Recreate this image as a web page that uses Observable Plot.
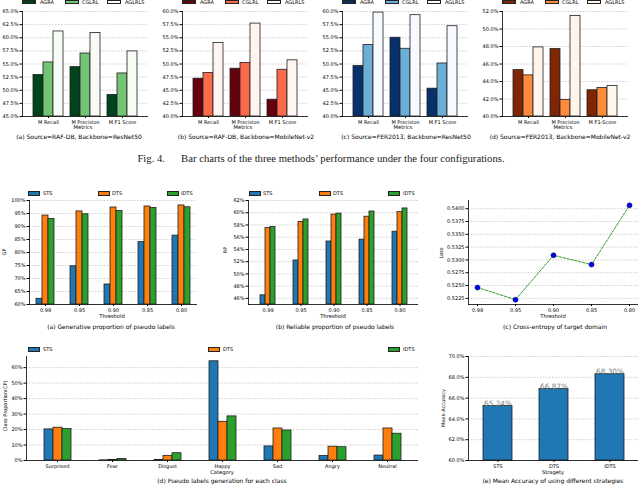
<!DOCTYPE html>
<html><head><meta charset="utf-8">
<script src="https://cdn.jsdelivr.net/npm/d3@7"></script>
<script src="https://cdn.jsdelivr.net/npm/@observablehq/plot@0.6"></script>
<style>
body{margin:0;background:#fff;}
#fig{position:relative;width:640px;height:485px;overflow:hidden;font-family:"DejaVu Sans",sans-serif;color:#000;background:#fff;}
#fig svg{position:absolute;}
</style></head><body><div id="fig"></div>
<script>
// ---------- data ----------
const topMetrics = ["M Recall", "M Precision", "M F1 Score"];
const topMetricsD = ["M Recall", "M Precision", "M F1-Score"];
const topMethods = ["AGRA", "CGLRL", "AGLRLS"];
// rows = methods (AGRA, CGLRL, AGLRLS), cols = metrics
const valuesA = [[52.9, 54.4, 49.1], [55.3, 57.0, 53.2], [61.2, 60.9, 57.4]];
const valuesB = [[47.2, 49.1, 43.2], [48.3, 50.2, 48.9], [54.0, 57.7, 50.7]];
const valuesC = [[49.6, 55.0, 45.3], [53.6, 52.9, 50.1], [59.8, 59.3, 57.2]];
const valuesD = [[45.3, 47.7, 43.0], [44.7, 41.9, 43.25], [47.9, 51.5, 43.5]];
const greens = ["#00441b", "#74c476", "#f7fcf5"];
const reds = ["#67000d", "#fb6a4a", "#fff5f0"];
const blues = ["#08306b", "#6baed6", "#f7fbff"];
const oranges = ["#7f2704", "#fd8d3c", "#fff5eb"];
const ticksA = [45, 47.5, 50, 52.5, 55, 57.5, 60, 62.5, 65];
const ticksBC = [40, 42.5, 45, 47.5, 50, 52.5, 55, 57.5, 60];
const ticksD = [40, 42, 44, 46, 48, 50, 52];

const thresholds = ["0.99", "0.95", "0.90", "0.85", "0.80"];
const strategies = ["STS", "DTS", "IDTS"];
const tab = ["#1f77b4", "#ff7f0e", "#2ca02c"];
const gpSTS = [62.2, 74.7, 67.7, 84.0, 86.5];
const gpDTS = [94.2, 95.8, 97.3, 97.7, 98.1];
const gpIDTS = [92.9, 94.7, 96.0, 97.1, 97.4];
const gpTicks = [60, 65, 70, 75, 80, 85, 90, 95, 100];
const rpSTS = [46.5, 52.2, 55.3, 55.6, 56.9];
const rpDTS = [57.5, 58.5, 59.7, 59.35, 60.1];
const rpIDTS = [57.66, 58.9, 59.85, 60.2, 60.7];
const rpTicks = [46, 48, 50, 52, 54, 56, 58, 60, 62];
const lossValues = [0.52461, 0.52224, 0.5309, 0.52909, 0.54065];
const lossTicks = [0.5225, 0.525, 0.5275, 0.53, 0.5325, 0.535, 0.5375, 0.54];

const categories = ["Surprised", "Fear", "Disgust", "Happy", "Sad", "Angry", "Neutral"];
const cpSTS = [20.1, 0.1, 0.4, 64.1, 9.1, 3.0, 3.2];
const cpDTS = [21.2, 0.4, 3.0, 25.0, 20.7, 8.9, 20.7];
const cpIDTS = [20.3, 1.0, 4.7, 28.5, 19.4, 8.6, 17.3];
const cpTicks = [0, 10, 20, 30, 40, 50, 60];
const meanAcc = [65.24, 66.87, 68.30];
const accTicks = [60, 62, 64, 66, 68, 70];

// ---------- helpers ----------
const fig = document.getElementById("fig");
function put(node, left, top) { node.style.left = left + "px"; node.style.top = top + "px"; fig.append(node); }
function label(str, x, y, fs, align = "center", rotate = false, family = null, color = "#000") {
  const d = document.createElement("div");
  d.textContent = str;
  const tx = align === "center" ? "-50%" : align === "left" ? "0" : "-100%";
  d.style.cssText = `position:absolute;left:${x}px;top:${y}px;font-size:${fs}px;line-height:1;white-space:nowrap;color:${color};transform:translate(${tx},-50%)${rotate ? " rotate(-90deg)" : ""};` + (family ? `font-family:${family};` : "");
  fig.append(d);
}
function legend(items, colors, swX, txX, yc, swW, swH, fs) {
  items.forEach((name, i) => {
    const sw = document.createElement("div");
    sw.style.cssText = `position:absolute;left:${swX[i]}px;top:${yc - swH / 2}px;width:${swW}px;height:${swH}px;background:${colors[i]};border:0.8px solid #222;box-sizing:border-box;`;
    fig.append(sw);
    label(name, txX[i], yc, fs, "left");
  });
}
const gridStyle = {stroke: "#bdbdbd", strokeDasharray: "1.6,1.4", strokeWidth: 0.7};
const baseStyle = fs => ({background: "transparent", fontFamily: "DejaVu Sans", fontSize: fs + "px", overflow: "visible", color: "#000"});

function toRows(cats, series, matrix) {
  const rows = [];
  series.forEach((s, i) => cats.forEach((c, j) => rows.push({cat: c, series: s, value: matrix[i][j]})));
  return rows;
}

// background layer (y axis, grid, spines) + foreground layer (faceted bars, category axis)
function groupedBars(o, left, top) {
  const dims = {width: o.width, height: o.height, marginLeft: o.mL, marginRight: o.mR, marginTop: o.mT, marginBottom: o.mB};
  const back = Plot.plot({
    ...dims,
    style: baseStyle(o.fs),
    y: {domain: o.yDomain, ticks: o.yTicks, tickFormat: o.yFormat, label: null, tickSize: 2.5, tickPadding: 1.5},
    marks: [
      Plot.ruleY(o.yTicks, gridStyle),
      Plot.ruleY([o.yDomain[0]], {stroke: "#000", strokeWidth: 0.8}),
      Plot.frame({anchor: "left", stroke: "#000", strokeWidth: 0.8})
    ]
  });
  const data = toRows(o.cats, o.series, o.values);
  const front = Plot.plot({
    ...dims,
    style: baseStyle(o.fs),
    fx: {domain: o.cats, paddingInner: o.pi, paddingOuter: o.po, label: null, tickSize: 2, tickPadding: 1.5},
    x: {domain: o.series, axis: null, padding: 0},
    y: {domain: o.yDomain, axis: null},
    color: {domain: o.series, range: o.colors},
    marks: [
      Plot.barY(data, {fx: "cat", x: "series", y1: o.yDomain[0], y2: "value", fill: "series", stroke: "#1e1e1e", strokeWidth: 0.8, insetLeft: 0, insetRight: 0})
    ]
  });
  put(back, left, top);
  put(front, left, top);
}

// ---------- top row ----------
const pct1 = d => d.toFixed(1) + "%";
const topPanels = [
  {left: 0, values: valuesA, colors: greens, yDomain: [45, 65], yTicks: ticksA, cats: topMetrics, cap: "(a) Source=RAF-DB, Backbone=ResNet50", capX: 79},
  {left: 160, values: valuesB, colors: reds, yDomain: [40, 60], yTicks: ticksBC, cats: topMetrics, cap: "(b) Source=RAF-DB, Backbone=MobileNet-v2", capX: 86},
  {left: 320, values: valuesC, colors: blues, yDomain: [40, 60], yTicks: ticksBC, cats: topMetrics, cap: "(c) Source=FER2013, Backbone=ResNet50", capX: 86},
  {left: 480, values: valuesD, colors: oranges, yDomain: [40, 52], yTicks: ticksD, cats: topMetricsD, cap: "(d) Source=FER2013, Backbone=MobileNet-v2", capX: 80}
];
topPanels.forEach(p => {
  groupedBars({cats: p.cats, series: topMethods, values: p.values, colors: p.colors,
    yDomain: p.yDomain, yTicks: p.yTicks, yFormat: pct1,
    width: 160, height: 130, mL: 22, mR: 12, mT: 11, mB: 14, pi: 0.2, po: 0.28, fs: 5}, p.left, 0);
  legend(topMethods, p.colors, [p.left + 22, p.left + 65, p.left + 107], [p.left + 40, p.left + 82, p.left + 125], 2, 14, 4.5, 5);
  label("Metrics", p.left + 83, 128, 5.2);
  label(p.cap, p.left + p.capX, 136.5, 6);
});
label("Fig. 4.\u2003\u2002Bar charts of the three methods\u2019 performance under the four configurations.", 321, 158, 10.7, "center", false, "'Liberation Serif', serif", "#222");

// ---------- middle row ----------
const pct0 = d => d + "%";
groupedBars({cats: thresholds, series: strategies, values: [gpSTS, gpDTS, gpIDTS], colors: tab,
  yDomain: [60, 100], yTicks: gpTicks, yFormat: pct0,
  width: 210, height: 135, mL: 29, mR: 13, mT: 10, mB: 21, pi: 0.482, po: 0.158, fs: 5}, 0, 190);
legend(strategies, tab, [28, 98, 167], [43, 112, 181], 193, 12, 5, 5);
label("GP", 3.5, 252, 5, "center", true);
label("Threshold", 112, 317, 5.2);
label("(a) Generative proportion of pseudo labels", 111, 326.5, 6);

groupedBars({cats: thresholds, series: strategies, values: [rpSTS, rpDTS, rpIDTS], colors: tab,
  yDomain: [45, 62], yTicks: rpTicks, yFormat: pct0,
  width: 220, height: 135, mL: 38, mR: 12, mT: 10, mB: 21, pi: 0.485, po: 0.243, fs: 5}, 210, 190);
legend(strategies, tab, [249, 319, 388], [263, 333, 403], 193, 12, 5, 5);
label("RP", 225, 250, 5, "center", true);
label("Threshold", 333, 317, 5.2);
label("(b) Reliable proportion of pseudo labels", 335, 326.5, 6);

const lossData = thresholds.map((t, i) => ({t, loss: lossValues[i]}));
const svgLoss = Plot.plot({
  width: 210, height: 135, marginLeft: 38, marginRight: 2, marginTop: 10, marginBottom: 21,
  style: baseStyle(5),
  x: {type: "point", domain: thresholds, padding: 0.21, label: null, tickSize: 2, tickPadding: 1.5},
  y: {domain: [0.5213, 0.5416], ticks: lossTicks, tickFormat: d3.format(".4f"), label: null, tickSize: 2.5, tickPadding: 1.5},
  marks: [
    Plot.ruleY(lossTicks, gridStyle),
    Plot.line(lossData, {x: "t", y: "loss", stroke: "#2ca02c", strokeWidth: 1, strokeDasharray: "2.6,1.4"}),
    Plot.dot(lossData, {x: "t", y: "loss", r: 2.5, fill: "#0000ee", stroke: "#10106a", strokeWidth: 0.6}),
    Plot.ruleY([0.5213], {stroke: "#000", strokeWidth: 0.8}),
    Plot.frame({anchor: "left", stroke: "#000", strokeWidth: 0.8})
  ]
});
put(svgLoss, 430, 190);
label("Loss", 441, 253, 5, "center", true);
label("Threshold", 553, 317, 5.2);
label("(c) Cross-entropy of target domain", 555, 326.5, 6);

// ---------- bottom row ----------
groupedBars({cats: categories, series: strategies, values: [cpSTS, cpDTS, cpIDTS], colors: tab,
  yDomain: [0, 67.2], yTicks: cpTicks, yFormat: pct0,
  width: 430, height: 125, mL: 26, mR: 12, mT: 11, mB: 10, pi: 0.4875, po: 0.244, fs: 5}, 0, 345);
legend(strategies, tab, [28, 208, 388], [43, 223, 403], 349, 12, 5, 5);
label("Class Proportion(CP)", 5, 406, 5, "center", true);
label("Category", 222, 473, 5.2);
label("(d) Pseudo labels generation for each class", 222, 481, 6);

const accData = strategies.map((s, i) => ({s, v: meanAcc[i]}));
const svgAcc = Plot.plot({
  width: 210, height: 125, marginLeft: 38, marginRight: 2, marginTop: 11, marginBottom: 10,
  style: baseStyle(5),
  x: {domain: strategies, paddingInner: 0.487, paddingOuter: 0.248, label: null, tickSize: 2, tickPadding: 1.5},
  y: {domain: [60, 70], ticks: accTicks, tickFormat: pct1, label: null, tickSize: 2.5, tickPadding: 1.5},
  marks: [
    Plot.ruleY(accTicks, gridStyle),
    Plot.barY(accData, {x: "s", y1: 60, y2: "v", fill: "#1f77b4", stroke: "#1e1e1e", strokeWidth: 0.8}),
    Plot.text(accData, {x: "s", y: "v", text: d => d.v.toFixed(2) + "%", lineAnchor: "bottom", dy: -0.5, fill: "#7f7f7f", fontSize: 7.3}),
    Plot.ruleY([60], {stroke: "#000", strokeWidth: 0.8}),
    Plot.frame({anchor: "left", stroke: "#000", strokeWidth: 0.8})
  ]
});
put(svgAcc, 430, 345);
label("Mean Accuracy", 443, 408, 5, "center", true);
label("Stragety", 553, 473, 5.2);
label("(e) Mean Accuracy of using different strategies", 553, 481, 6);
</script></body></html>
